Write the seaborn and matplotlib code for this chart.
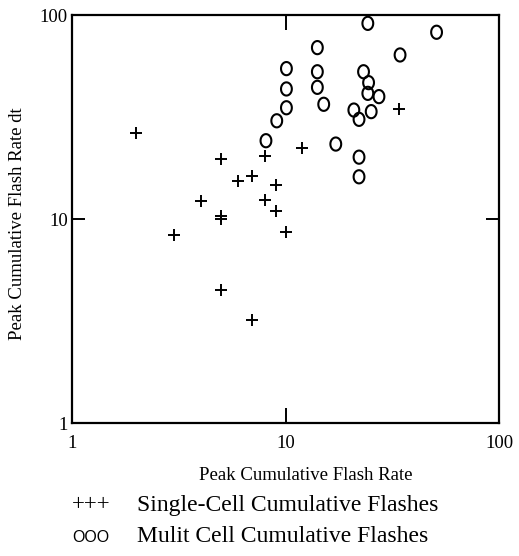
import numpy as np
import pandas as pd
import matplotlib
matplotlib.use("Agg")
import matplotlib.pyplot as plt
from matplotlib.path import Path
import seaborn as sns

# ---- data ----
single_x = [2, 5, 8, 12, 34, 6, 7, 9, 4, 8, 9, 5, 5, 3, 10, 5, 7]
single_y = [26.3, 19.6, 20.4, 22.4, 34.6, 15.4, 16.3, 14.7, 12.2, 12.4, 10.9, 10.4, 10.0, 8.35, 8.6, 4.5, 3.2]

multi_x = [24.3, 51, 14.1, 34.4, 10.1, 14.1, 23.2, 24.5, 10.1, 14.1, 24.3, 27.4,
           10.1, 15.1, 20.9, 25.2, 22.1, 9.1, 8.1, 17.2, 22.1, 22.1]
multi_y = [91, 82.3, 69.2, 63.7, 54.6, 52.7, 52.7, 46.6, 43.4, 44.2, 41.3, 39.8,
           35.1, 36.5, 34.2, 33.6, 30.8, 30.3, 24.2, 23.3, 20.1, 16.1]

tick_vals = [1, 10, 100]
tick_labels = ["1", "10", "100"]

x_label = "Peak Cumulative Flash Rate"
y_label = "Peak Cumulative Flash Rate dt"
legend_single = "Single-Cell Cumulative Flashes"
legend_multi = "Mulit Cell Cumulative Flashes"

df_single = pd.DataFrame({"x": single_x, "y": single_y})
df_multi = pd.DataFrame({"x": multi_x, "y": multi_y})

sns.set_theme(style="white")
plt.rcParams["font.family"] = ["Liberation Serif", "DejaVu Serif"]

W, H = 519, 556
fig = plt.figure(figsize=(W / 100, H / 100), dpi=100)
ax = fig.add_axes([72 / W, 1 - 423 / H, (499 - 72) / W, (423 - 15) / H])

# slightly tall ellipse marker
t = np.linspace(0, 2 * np.pi, 60)
ell = Path(np.column_stack([0.82 * np.cos(t), np.sin(t)]), closed=True)

sns.scatterplot(data=df_single, x="x", y="y", marker="+", s=80, color="black",
                linewidth=1.4, ax=ax, legend=False, zorder=3)
sns.scatterplot(data=df_multi, x="x", y="y", marker=ell, s=90, facecolors="none",
                edgecolor="black", linewidth=1.5, ax=ax, legend=False, zorder=3)

ax.set_xscale("log")
ax.set_yscale("log")
ax.set_xlim(1, 100)
ax.set_ylim(1, 100)
ax.set_xticks(tick_vals)
ax.set_xticklabels(tick_labels)
ax.set_yticks(tick_vals)
ax.set_yticklabels(tick_labels)
ax.minorticks_off()
ax.set_xlabel("")
ax.set_ylabel("")

for s in ax.spines.values():
    s.set_visible(True)
    s.set_color("black")
    s.set_linewidth(1.6)

ax.tick_params(axis="both", which="major", direction="in", width=1.4,
               color="black", labelsize=13.5, labelcolor="black",
               top=True, right=True, bottom=True, left=True)
ax.tick_params(axis="x", pad=9, length=11)
ax.tick_params(axis="y", pad=3, length=9.5)
# hide tick marks at the axis limits (only show the one at 10)
for axis in (ax.xaxis, ax.yaxis):
    for tk in axis.get_major_ticks():
        if tk.get_loc() in (1, 100):
            tk.tick1line.set_visible(False)
            tk.tick2line.set_visible(False)

fig.text(306 / W, 1 - 475 / H, x_label, ha="center", va="center", fontsize=13.5, color="black")
fig.text(18 / W, 1 - 224 / H, y_label, ha="center", va="center", rotation=90,
         fontsize=13.5, color="black")

fig.text(72 / W, 1 - 505 / H, "+++", ha="left", va="center", fontsize=16.5, color="black")
fig.text(137 / W, 1 - 505 / H, legend_single, ha="left", va="center", fontsize=17, color="black")
fig.text(72 / W, 1 - 537 / H, "OOO", ha="left", va="center", fontsize=11.5,
         family=["Liberation Sans", "DejaVu Sans"], color="black")
fig.text(137 / W, 1 - 537 / H, legend_multi, ha="left", va="center", fontsize=17, color="black")

fig.savefig("out.png", dpi=100, facecolor="white")
